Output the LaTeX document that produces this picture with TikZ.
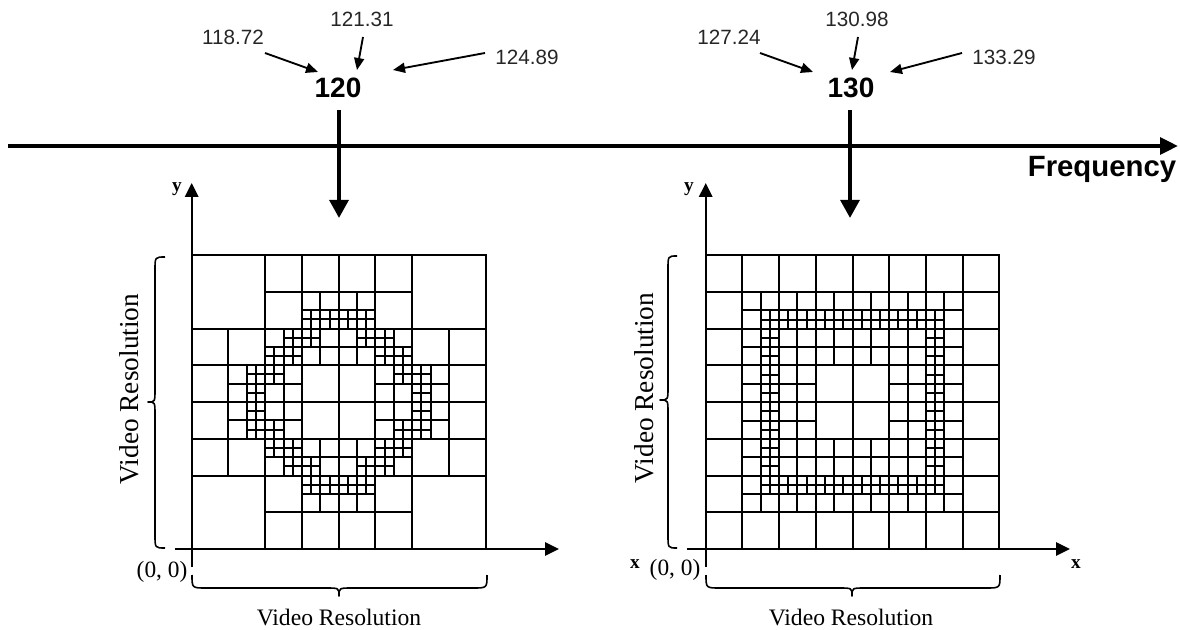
\documentclass[tikz,border=0pt]{standalone}
\usepackage{fontspec}
\setmainfont{Liberation Serif}
\setsansfont{Liberation Sans}
\usetikzlibrary{arrows.meta}

\begin{document}
\begin{tikzpicture}[x=0.75pt, y=-0.75pt,
  numlabel/.style={font=\sffamily\fontsize{15.5}{18}\selectfont, text=black!85, inner sep=0pt, anchor=base},
  freqlabel/.style={font=\sffamily\bfseries\fontsize{21}{24}\selectfont, inner sep=0pt, anchor=base},
  axislabel/.style={font=\bfseries\fontsize{14.5}{17}\selectfont, inner sep=0pt, anchor=base},
  originlabel/.style={font=\fontsize{17.5}{20}\selectfont, inner sep=0pt, anchor=base},
  reslabel/.style={font=\fontsize{17.7}{20}\selectfont, inner sep=0pt, anchor=base},
  sidelabel/.style={font=\fontsize{20.5}{24}\selectfont, inner sep=0pt, rotate=90},
  pointer/.style={-{Triangle[length=9pt,width=7.5pt]}, line width=1.4pt},
  drop/.style={-{Triangle[length=13.5pt,width=14pt]}, line width=3pt},
  freqaxis/.style={-{Triangle[length=13.5pt,width=12.5pt]}, line width=3pt},
  axis/.style={-{Triangle[length=10.5pt,width=10pt]}, line width=1.6pt},
  gridline/.style={line width=1.5pt},
  bracepath/.style={line width=1.2pt, line join=round}
]
\useasboundingbox (0,0) rectangle (1180,630);

% ---------- frequency axis ----------
\coordinate (fL) at (8,146);
\coordinate (fR) at (1178,146);
\draw[freqaxis] (fL) -- (fR);
\node[freqlabel, font=\sffamily\bfseries\fontsize{22}{26}\selectfont] (freq) at (1102,177) {Frequency};

% ---------- frequency bin 120 ----------
\node[freqlabel] (n120) at (338,98) {120};
\node[numlabel] (n118) at (233,45) {118.72};
\node[numlabel] (n121) at (362,27) {121.31};
\node[numlabel] (n124) at (527,65) {124.89};
\draw[pointer] ([shift={(32,8)}]n118.base) -- ([shift={(-20,-26)}]n120.base);
\draw[pointer] ([shift={(1,10)}]n121.base) -- ([shift={(19,-28)}]n120.base);
\draw[pointer] ([shift={(-42,-12)}]n124.base) -- ([shift={(55,-28)}]n120.base);
\coordinate (d120) at (339,218);
\draw[drop] ([shift={(1,12)}]n120.base) -- (d120);

% ---------- frequency bin 130 ----------
\node[freqlabel] (n130) at (851,98) {130};
\node[numlabel] (n127) at (729,45) {127.24};
\node[numlabel] (n1309) at (857,27) {130.98};
\node[numlabel] (n133) at (1004,65) {133.29};
\draw[pointer] ([shift={(31,8)}]n127.base) -- ([shift={(-38,-26)}]n130.base);
\draw[pointer] ([shift={(1,10)}]n1309.base) -- ([shift={(1,-28)}]n130.base);
\draw[pointer] ([shift={(-42,-12)}]n133.base) -- ([shift={(39,-26)}]n130.base);
\coordinate (d130) at (850,218);
\draw[drop] ([shift={(-1,12)}]n130.base) -- (d130);

% ---------- left partition: ring refined along a circle ----------
\begin{scope}[shift={(191.7,549)}, x=27.56pt, y=27.56pt, gridline]
  \draw (0,0) rectangle (8,8);
  \foreach \k in {2,4,6} {
    \draw (\k,0) -- (\k,8);
    \draw (0,\k) -- (8,\k);
  }
  % unit cells (corner 2x2 blocks stay whole)
  \foreach \k in {3,5} {
    \draw (\k,0) -- (\k,8);
    \draw (0,\k) -- (8,\k);
  }
  \foreach \k in {1,7} {
    \draw (\k,2) -- (\k,6);
    \draw (2,\k) -- (6,\k);
  }
  % half cells
  \foreach \a/\b in {3/1,1/3,2/2,3/2,2/3}
    \foreach \c in {\a,7-\a}
      \foreach \r in {\b,7-\b}
        \draw ({(\c)+0.5},{\r}) -- ++(0,1) ({\c},{(\r)+0.5}) -- ++(1,0);
  % quarter cells
  \foreach \a/\b in {6/3,7/3,3/6,3/7,5/4,4/5,5/5,6/4,4/6}
    \foreach \p in {\a,15-\a}
      \foreach \q in {\b,15-\b}
        \draw ({(\p)/2+0.25},{(\q)/2}) -- ++(0,0.5) ({(\p)/2},{(\q)/2+0.25}) -- ++(0.5,0);
\end{scope}

% ---------- right partition: square ring ----------
\begin{scope}[shift={(705.7,549)}, x=27.53pt, y=27.53pt, gridline]
  \draw (0,0) rectangle (8,8);
  \foreach \k in {1,...,7} {
    \draw (\k,0) -- (\k,8);
    \draw (0,\k) -- (8,\k);
  }
  % half cells
  \foreach \k in {1.5,2.5,5.5,6.5} {
    \draw (\k,1) -- (\k,7);
    \draw (1,\k) -- (7,\k);
  }
  \foreach \k in {3.5,4.5} {
    \draw (\k,1) -- (\k,3) (\k,5) -- (\k,7);
    \draw (1,\k) -- (3,\k) (5,\k) -- (7,\k);
  }
  % quarter cells
  \draw (1.5,1.75) -- (6.5,1.75) (1.5,6.25) -- (6.5,6.25);
  \draw (1.75,1.5) -- (1.75,6.5) (6.25,1.5) -- (6.25,6.5);
  \foreach \k in {3,...,12} {
    \draw ({\k/2+0.25},1.5) -- ++(0,0.5) ({\k/2+0.25},6) -- ++(0,0.5);
    \draw (1.5,{\k/2+0.25}) -- ++(0.5,0) (6,{\k/2+0.25}) -- ++(0.5,0);
  }
\end{scope}

% ---------- left axes ----------
\coordinate (ly0) at (191.7,567);
\coordinate (ly1) at (191.7,183);
\coordinate (lx0) at (175,549);
\coordinate (lx1) at (559,549);
\draw[axis] (ly0) -- (ly1);
\draw[axis] (lx0) -- (lx1);
\node[axislabel] (ylabL) at (177,192) {y};
\node[originlabel] (oL) at (162,577) {(0, 0)};

% ---------- right axes ----------
\coordinate (ry0) at (705.7,567);
\coordinate (ry1) at (705.7,183);
\coordinate (rx0) at (687,549);
\coordinate (rx1) at (1070,549);
\draw[axis] (ry0) -- (ry1);
\draw[axis] (rx0) -- (rx1);
\node[axislabel] (ylabR) at (689,192) {y};
\node[axislabel] (xlabR1) at (635,568) {x};
\node[axislabel] (xlabR2) at (1076,568) {x};
\node[originlabel] (oR) at (675,575) {(0, 0)};

% ---------- braces ----------
\draw[bracepath] (165,257) .. controls (155,257) .. (155,270) -- (155,389)
  .. controls (155,402) .. (148,402) .. controls (155,402) .. (155,415)
  -- (155,535) .. controls (155,548) .. (165,548);
\draw[bracepath] (192,575) .. controls (192,588) .. (206,588) -- (326,588)
  .. controls (339,588) .. (339,596) .. controls (339,588) .. (352,588)
  -- (473,588) .. controls (487,588) .. (487,575);
\draw[bracepath] (677,256) .. controls (668,256) .. (668,269) -- (668,387)
  .. controls (668,400) .. (660,400) .. controls (668,400) .. (668,413)
  -- (668,535) .. controls (668,548) .. (677,548);
\draw[bracepath] (706,575) .. controls (706,588) .. (720,588) -- (839,588)
  .. controls (852,588) .. (852,596) .. controls (852,588) .. (865,588)
  -- (986,588) .. controls (1000,588) .. (1000,575);

\node[sidelabel] (vrL) at (129,389) {Video Resolution};
\node[sidelabel] (vrR) at (644,388) {Video Resolution};
\node[reslabel] (hrL) at (339,625) {Video Resolution};
\node[reslabel] (hrR) at (851,625) {Video Resolution};
\end{tikzpicture}
\end{document}
